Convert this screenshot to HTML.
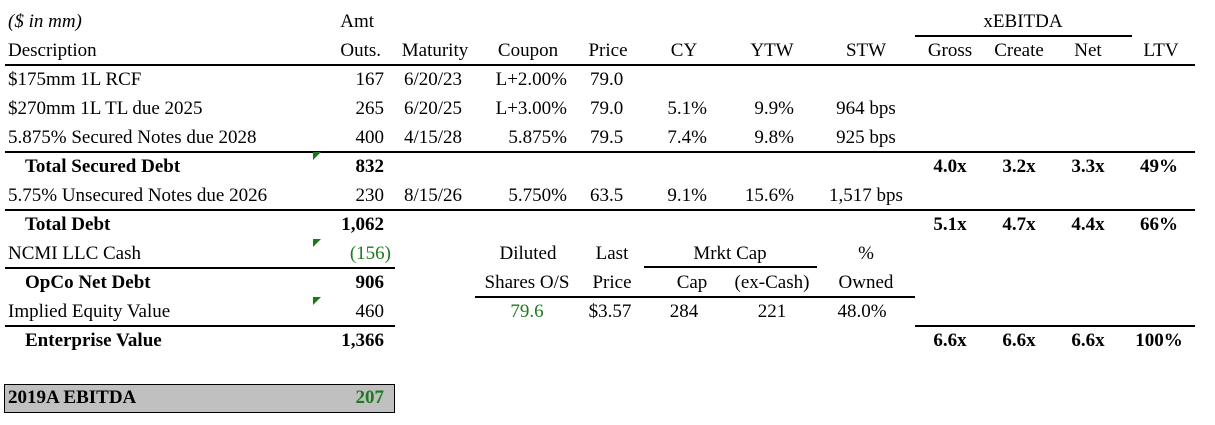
<!DOCTYPE html>
<html><head><meta charset="utf-8">
<style>
body{margin:0;background:#fff;}
#t{position:relative;width:1215px;height:425px;overflow:hidden;font-family:"Liberation Serif","Times New Roman","DejaVu Serif",serif;font-size:19px;color:#000;}
#t div{font-family:"Liberation Serif","Times New Roman","DejaVu Serif",serif;}
.c{position:absolute;white-space:nowrap;line-height:22px;height:22px;}
.b{font-weight:bold;}
.g{color:#1e7a1e;}
.ln{position:absolute;height:1.5px;background:#000;}
.tri{position:absolute;width:0;height:0;border-top:8px solid #1a7a1a;border-right:8px solid transparent;}
</style></head><body>
<div id="t"></div>
<script>
const rowLabels=["$175mm 1L RCF","$270mm 1L TL due 2025","5.875% Secured Notes due 2028","Total Secured Debt","5.75% Unsecured Notes due 2026","Total Debt","NCMI LLC Cash","OpCo Net Debt","Implied Equity Value","Enterprise Value"];
const amounts=["167","265","400","832","230","1,062","(156)","906","460","1,366"];
const maturities=["6/20/23","6/20/25","4/15/28","","8/15/26"];
const coupons=["L+2.00%","L+3.00%","5.875%","","5.750%"];
const prices=["79.0","79.0","79.5","","63.5"];
const cy=["","5.1%","7.4%","","9.1%"];
const ytw=["","9.9%","9.8%","","15.6%"];
const stw=["","964 bps","925 bps","","1,517 bps"];
const multRows=[3,5,9];
const gross=["4.0x","5.1x","6.6x"];
const create=["3.2x","4.7x","6.6x"];
const net=["3.3x","4.4x","6.6x"];
const ltv=["49%","66%","100%"];
const T=document.getElementById('t');
function y(r){return 22+29*r;}
function txt(s,x,r,align,cls,name){
  const d=document.createElement('div');
  d.className='c '+(cls||'');
  d.textContent=s;
  
  
  d.style.top=(y(r)-11)+'px';
  if(align==='r'){d.style.right=(1215-x)+'px';}
  else if(align==='c'){d.style.left=(x-150)+'px';d.style.width='300px';d.style.textAlign='center';}
  else d.style.left=x+'px';
  T.appendChild(d);
}
function line(x1,x2,yy,name){
  const d=document.createElement('div');
  d.className='ln';
  
  
  d.style.left=x1+'px';d.style.width=(x2-x1)+'px';d.style.top=yy+'px';
  T.appendChild(d);
}
function tri(x,yy){
  const d=document.createElement('div');
  d.className='tri';
  
  
  d.style.left=x+'px';d.style.top=yy+'px';
  T.appendChild(d);
}
txt("($ in mm)",8,0,'l','','units-note');T.lastChild.style.fontStyle='italic';
txt("Amt",374,0,'r','','amt-header');
txt("xEBITDA",1023,0,'c','','xebitda-header');
const hdr=[["Description",8,'l'],["Outs.",381,'r'],["Maturity",435,'c'],["Coupon",528,'c'],["Price",608,'c'],["CY",684,'c'],["YTW",772,'c'],["STW",866,'c'],["Gross",950,'c'],["Create",1019,'c'],["Net",1088,'c'],["LTV",1161,'c']];
hdr.forEach(h=>txt(h[0],h[1],1,h[2],'','column-header'));
const bold=[3,5,7,9];
rowLabels.forEach((s,i)=>{
  const r=i+2;const b=bold.includes(i);
  txt(s,b?25:8,r,'l',b?'b':'','row-label');
  txt(amounts[i],i===6?391:384,r,'r',(b?'b':'')+(i===6?' g':''),'amount-outstanding');
});
maturities.forEach((s,i)=>{if(s)txt(s,433,i+2,'c','','maturity');});
coupons.forEach((s,i)=>{if(s)txt(s,567,i+2,'r','','coupon');});
prices.forEach((s,i)=>{if(s)txt(s,590,i+2,'l','','price');});
cy.forEach((s,i)=>{if(s)txt(s,707,i+2,'r','','current-yield');});
ytw.forEach((s,i)=>{if(s)txt(s,794,i+2,'r','','yield-to-worst');});
stw.forEach((s,i)=>{if(s)txt(s,866,i+2,'c','','spread-to-worst');});
multRows.forEach((ri,k)=>{
  const r=ri+2;
  txt(gross[k],950,r,'c','b','gross-multiple');
  txt(create[k],1019,r,'c','b','create-multiple');
  txt(net[k],1088,r,'c','b','net-multiple');
  txt(ltv[k],1159,r,'c','b','ltv');
});
txt("Diluted",528,8,'c','','diluted-header');
txt("Last",612,8,'c','','last-header');
txt("Mrkt Cap",730,8,'c','','mrkt-cap-header');
txt("%",866,8,'c','','pct-header');
txt("Shares O/S",527,9,'c','','shares-header');
txt("Price",612,9,'c','','price-header');
txt("Cap",692,9,'c','','cap-header');
txt("(ex-Cash)",772,9,'c','','excash-header');
txt("Owned",866,9,'c','','owned-header');
txt("79.6",527,10,'c','g','diluted-shares');
txt("$3.57",610,10,'c','','last-price');
txt("284",684,10,'c','','market-cap');
txt("221",772,10,'c','','market-cap-ex-cash');
txt("48.0%",862,10,'c','','pct-owned');
line(915,1132,35,'xebitda-underline');
line(5,1195,64,'header-underline');
line(5,1195,151,'secured-subtotal-line');
line(5,1195,209,'total-debt-line');
line(5,395,267,'cash-underline');
line(644,817,266,'mrkt-cap-underline');
line(475,915,296,'equity-header-underline');
line(5,395,325,'equity-underline');
line(915,1195,325,'ev-multiple-line');
tri(313,152);tri(313,239);tri(313,297);
const box=document.createElement('div');


box.style.cssText='position:absolute;left:4px;top:384px;width:389px;height:27px;background:#c0c0c0;border:1px solid #000;';
T.appendChild(box);
txt("2019A EBITDA",8,13,'l','b','ebitda-label');T.lastChild.style.top='387px';
txt("207",384,13,'r','b g','ebitda-value');T.lastChild.style.top='387px';
</script>
</body></html>
